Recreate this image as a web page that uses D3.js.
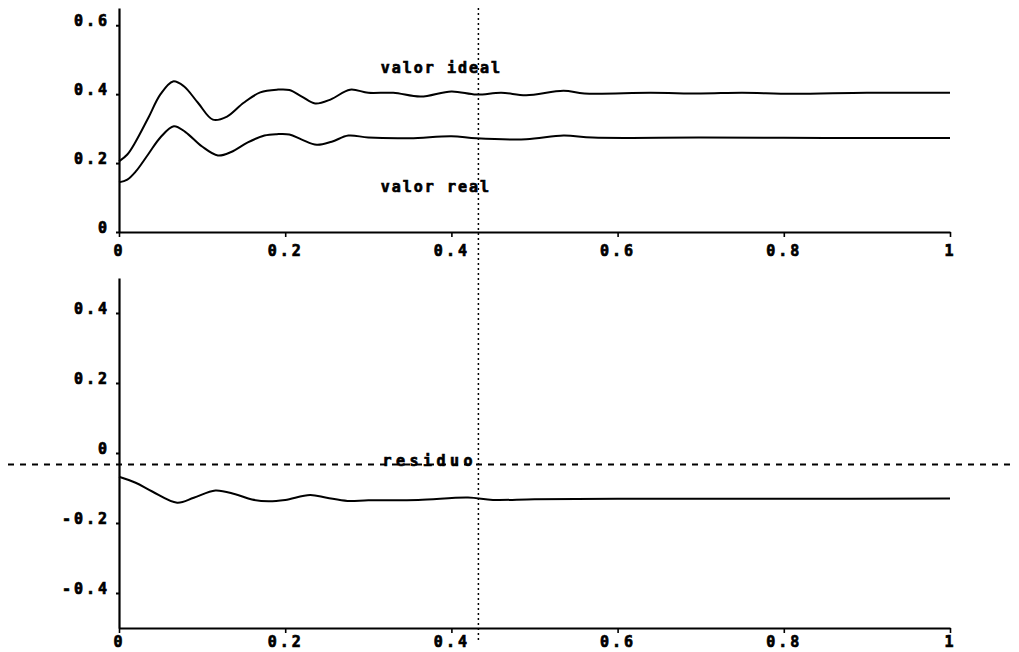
<!DOCTYPE html>
<html>
<head>
<meta charset="utf-8">
<script src="https://cdn.jsdelivr.net/npm/d3@7"></script>
<style>
  html, body { margin: 0; padding: 0; background: #fff; }
  svg { display: block; }
  .tick text, .lbl { font-family: "DejaVu Sans Mono", monospace; font-weight: bold; fill: #000; stroke: #000; stroke-width: 0.7px; }
</style>
</head>
<body>
<svg id="chart" width="1019" height="652"></svg>
<script>
// Time samples and series for the upper panel
const tIdeal = [0, 0.01, 0.02, 0.035, 0.05, 0.065, 0.078, 0.095, 0.113, 0.13, 0.15, 0.17, 0.19, 0.205, 0.22, 0.236, 0.255, 0.278, 0.3, 0.33, 0.363, 0.4, 0.43, 0.46, 0.49, 0.535, 0.56, 0.64, 0.7, 0.75, 0.81, 0.9, 1.0];
const valorIdeal = [0.205, 0.225, 0.262, 0.33, 0.40, 0.437, 0.423, 0.375, 0.326, 0.335, 0.375, 0.405, 0.413, 0.412, 0.393, 0.373, 0.385, 0.413, 0.404, 0.404, 0.393, 0.408, 0.399, 0.404, 0.397, 0.41, 0.402, 0.404, 0.402, 0.404, 0.401, 0.404, 0.404];

const tReal = [0, 0.01, 0.02, 0.035, 0.05, 0.066, 0.08, 0.1, 0.119, 0.135, 0.155, 0.175, 0.19, 0.205, 0.22, 0.238, 0.256, 0.276, 0.3, 0.35, 0.4, 0.43, 0.49, 0.535, 0.57, 0.7, 0.85, 1.0];
const valorReal = [0.144, 0.152, 0.175, 0.225, 0.275, 0.307, 0.29, 0.248, 0.222, 0.232, 0.26, 0.28, 0.284, 0.283, 0.268, 0.253, 0.262, 0.28, 0.274, 0.272, 0.278, 0.272, 0.269, 0.28, 0.274, 0.274, 0.273, 0.273];

// Lower panel: residual
const tResiduo = [0, 0.02, 0.04, 0.07, 0.09, 0.116, 0.14, 0.16, 0.18, 0.2, 0.23, 0.25, 0.275, 0.3, 0.36, 0.42, 0.45, 0.5, 0.6, 0.8, 1.0];
const residuo = [-0.068, -0.085, -0.11, -0.142, -0.128, -0.107, -0.118, -0.133, -0.138, -0.134, -0.12, -0.128, -0.137, -0.135, -0.134, -0.127, -0.134, -0.132, -0.131, -0.131, -0.13];

const xTicks = [0, 0.2, 0.4, 0.6, 0.8, 1];
const xTickLabels = ["0", "0.2", "0.4", "0.6", "0.8", "1"];
const yTicksTop = [0, 0.2, 0.4, 0.6];
const yTickLabelsTop = ["0", "0.2", "0.4", "0.6"];
const yTicksBottom = [-0.4, -0.2, 0, 0.2, 0.4];
const yTickLabelsBottom = ["-0.4", "-0.2", "0", "0.2", "0.4"];

const cursorT = 0.4325;       // vertical cursor position
const nivelResiduo = -0.033;  // dashed reference level in lower panel

const svg = d3.select("#chart");

const x = d3.scaleLinear().domain([0, 1]).range([119, 950]);
const yTop = d3.scaleLinear().domain([0, 0.65]).range([232, 8]);
const yBot = d3.scaleLinear().domain([-0.5, 0.5]).range([628, 278]);

function drawAxes(y, yTicks, yLabels, labelDy) {
  const gx = svg.append("g").attr("transform", `translate(0,${y.range()[0]})`)
    .call(d3.axisBottom(x).tickValues(xTicks).tickFormat((d, i) => xTickLabels[i]).tickSize(5).tickSizeOuter(0));
  gx.select(".domain").attr("stroke-width", 2.2);
  gx.selectAll(".tick line").attr("stroke-width", 1.6);
  gx.selectAll(".tick text").attr("y", labelDy).attr("dy", 0)
    .style("font-size", "15px").style("letter-spacing", "3px");

  const gy = svg.append("g").attr("transform", `translate(${x.range()[0]},0)`)
    .call(d3.axisLeft(y).tickValues(yTicks).tickFormat((d, i) => yLabels[i]).tickSize(3).tickSizeOuter(0));
  gy.select(".domain").attr("stroke-width", 2.2);
  gy.selectAll(".tick line").attr("stroke-width", 2);
  gy.selectAll(".tick text").attr("x", -9).attr("dy", 0)
    .style("font-size", "15px").style("letter-spacing", "3px");
}

drawAxes(yTop, yTicksTop, yTickLabelsTop, 24);
drawAxes(yBot, yTicksBottom, yTickLabelsBottom, 19);

const lineOf = (ts, vs, y) => d3.line().x((d, i) => x(ts[i])).y(d => y(d)).curve(d3.curveCatmullRom.alpha(0.5))(vs);

svg.append("path").attr("d", lineOf(tIdeal, valorIdeal, yTop))
  .attr("fill", "none").attr("stroke", "#000").attr("stroke-width", 2);
svg.append("path").attr("d", lineOf(tReal, valorReal, yTop))
  .attr("fill", "none").attr("stroke", "#000").attr("stroke-width", 2);
svg.append("path").attr("d", lineOf(tResiduo, residuo, yBot))
  .attr("fill", "none").attr("stroke", "#000").attr("stroke-width", 2);

// dashed reference level across the lower panel
svg.append("line")
  .attr("x1", 8).attr("x2", 1016)
  .attr("y1", yBot(nivelResiduo)).attr("y2", yBot(nivelResiduo))
  .attr("stroke", "#000").attr("stroke-width", 2).attr("stroke-dasharray", "6,6");

// vertical cursor through both panels
svg.append("line")
  .attr("x1", x(cursorT)).attr("x2", x(cursorT))
  .attr("y1", 8).attr("y2", 641)
  .attr("stroke", "#000").attr("stroke-width", 1.5).attr("stroke-dasharray", "2,3");

// curve labels
const labels = [
  { text: "valor ideal", t: 0.315, y: yTop, v: 0.46, sp: 2 },
  { text: "valor real", t: 0.315, y: yTop, v: 0.117, sp: 2 },
  { text: "residuo", t: 0.317, y: yBot, v: -0.036, sp: 4.5 }
];
svg.selectAll(".lbl").data(labels).join("text")
  .attr("class", "lbl")
  .attr("x", d => x(d.t))
  .attr("y", d => d.y(d.v))
  .style("font-size", "15px").style("letter-spacing", d => d.sp + "px")
  .text(d => d.text);
</script>
</body>
</html>
